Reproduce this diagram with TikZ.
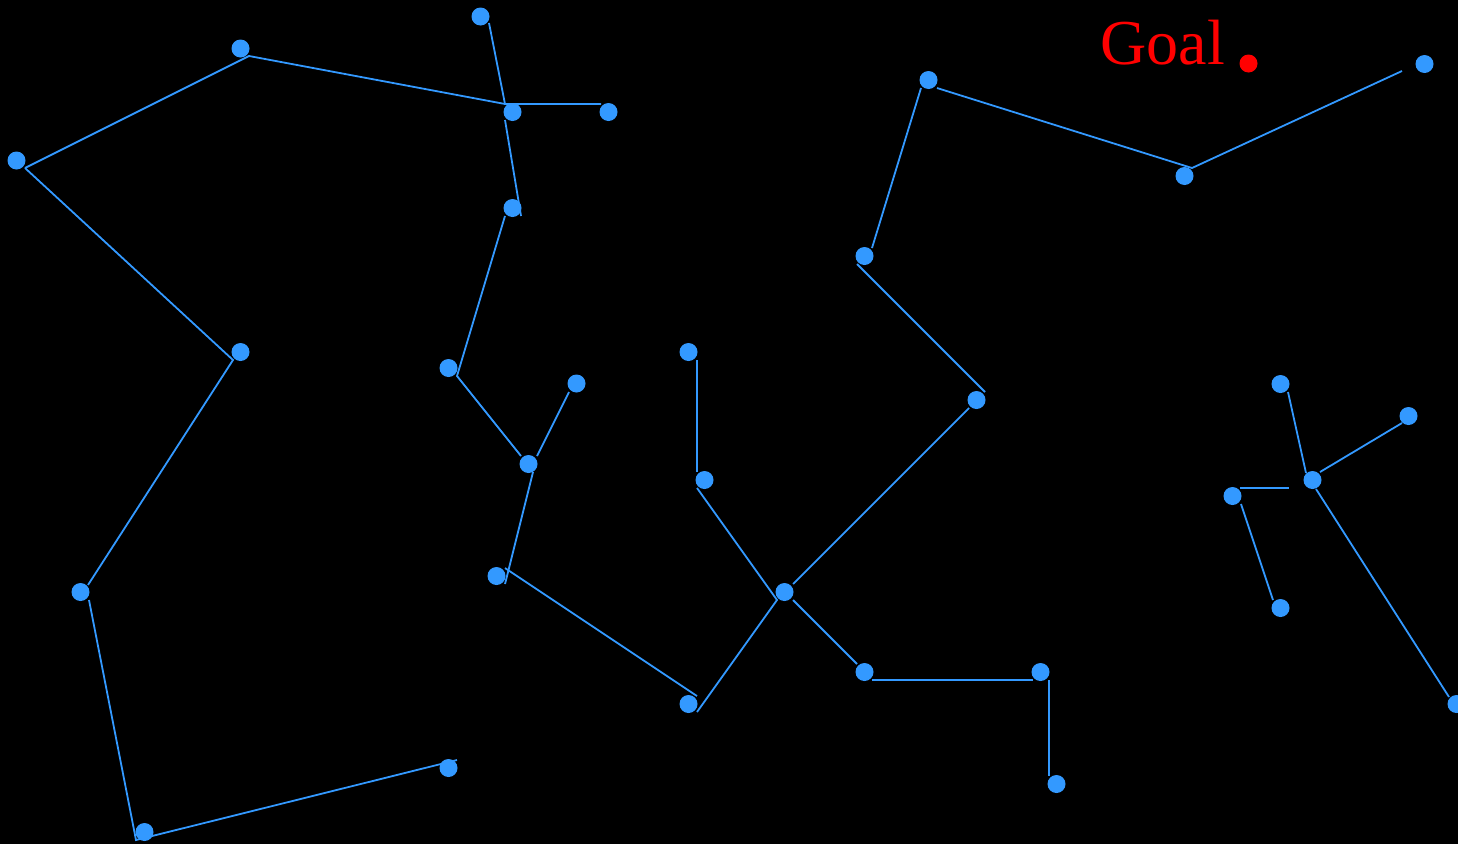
\documentclass[tikz,border=0pt]{standalone}
\usepackage{fontspec}
\setmainfont{Liberation Serif}
\definecolor{treeblue}{RGB}{51,153,255}
\definecolor{goalred}{RGB}{255,0,0}
\begin{document}
\begin{tikzpicture}[x=1pt,y=-1pt,
  dot/.style={circle,fill=treeblue,draw=none,minimum size=18pt,inner sep=0pt},
  goaldot/.style={circle,fill=goalred,draw=none,minimum size=18pt,inner sep=0pt},
  edge/.style={draw=treeblue,line width=1.8pt}]
\fill[black] (0,0) rectangle (1458,844);
\useasboundingbox (0,0) rectangle (1458,844);
% line vertices
\coordinate (v1) at (249,56);
\coordinate (v2) at (25,168);
\coordinate (v3) at (505,104);
\coordinate (v4) at (489,23);
\coordinate (v5) at (601,104);
\coordinate (v6) at (505,120);
\coordinate (v7) at (521,216);
\coordinate (v8) at (505,216);
\coordinate (v9) at (457,376);
\coordinate (v10) at (521,456);
\coordinate (v11) at (537,456);
\coordinate (v12) at (569,392);
\coordinate (v13) at (533,472);
\coordinate (v14) at (505,584);
\coordinate (v15) at (505,568);
\coordinate (v16) at (697,696);
\coordinate (v17) at (697,712);
\coordinate (v18) at (777,600);
\coordinate (v19) at (697,488);
\coordinate (v20) at (697,360);
\coordinate (v21) at (697,472);
\coordinate (v22) at (793,584);
\coordinate (v23) at (969,408);
\coordinate (v24) at (857,264);
\coordinate (v25) at (985,392);
\coordinate (v26) at (793,600);
\coordinate (v27) at (857,664);
\coordinate (v28) at (872,680);
\coordinate (v29) at (1033,680);
\coordinate (v30) at (1049,680);
\coordinate (v31) at (1049,776);
\coordinate (v32) at (872,248);
\coordinate (v33) at (921,88);
\coordinate (v34) at (937,88);
\coordinate (v35) at (1192,168);
\coordinate (v36) at (1402,71);
\coordinate (v37) at (233,360);
\coordinate (v38) at (88,585);
\coordinate (v39) at (89,600);
\coordinate (v40) at (136,840);
\coordinate (v41) at (457,760);
\coordinate (v42) at (1288,392);
\coordinate (v43) at (1306,473);
\coordinate (v44) at (1320,472);
\coordinate (v45) at (1402,423);
\coordinate (v46) at (1240,488);
\coordinate (v47) at (1289,488);
\coordinate (v48) at (1241,504);
\coordinate (v49) at (1273,600);
\coordinate (v50) at (1316,489);
\coordinate (v51) at (1449,697);
% edges
\draw[edge] (v2) -- (v1) -- (v3);
\draw[edge] (v4) -- (v3) -- (v5);
\draw[edge] (v6) -- (v7);
\draw[edge] (v8) -- (v9) -- (v10);
\draw[edge] (v11) -- (v12);
\draw[edge] (v13) -- (v14);
\draw[edge] (v15) -- (v16);
\draw[edge] (v17) -- (v18) -- (v19);
\draw[edge] (v20) -- (v21);
\draw[edge] (v22) -- (v23);
\draw[edge] (v24) -- (v25);
\draw[edge] (v26) -- (v27);
\draw[edge] (v28) -- (v29);
\draw[edge] (v30) -- (v31);
\draw[edge] (v32) -- (v33);
\draw[edge] (v34) -- (v35) -- (v36);
\draw[edge] (v2) -- (v37) -- (v38);
\draw[edge] (v39) -- (v40) -- (v41);
\draw[edge] (v42) -- (v43);
\draw[edge] (v44) -- (v45);
\draw[edge] (v46) -- (v47);
\draw[edge] (v48) -- (v49);
\draw[edge] (v50) -- (v51);
% dots
\node[dot] (n1) at (240.5,48.5) {};
\node[dot] (n2) at (16.5,160.5) {};
\node[dot] (n3) at (480.5,16.5) {};
\node[dot] (n4) at (512.5,112) {};
\node[dot] (n5) at (608.5,112) {};
\node[dot] (n6) at (512.5,208) {};
\node[dot] (n7) at (448.5,368) {};
\node[dot] (n8) at (576.5,383.5) {};
\node[dot] (n9) at (528.5,464) {};
\node[dot] (n10) at (496.5,576) {};
\node[dot] (n11) at (688.5,352) {};
\node[dot] (n12) at (704.5,480) {};
\node[dot] (n13) at (784.5,592) {};
\node[dot] (n14) at (688.5,704) {};
\node[dot] (n15) at (864.5,672) {};
\node[dot] (n16) at (976.5,400) {};
\node[dot] (n17) at (1040.5,672) {};
\node[dot] (n18) at (1056.5,784) {};
\node[dot] (n19) at (864.5,256) {};
\node[dot] (n20) at (928.5,80) {};
\node[dot] (n21) at (1184.5,176) {};
\node[dot] (n22) at (1424.5,64) {};
\node[dot] (n23) at (1280.5,384) {};
\node[dot] (n24) at (1408.5,416) {};
\node[dot] (n25) at (1312.5,480) {};
\node[dot] (n26) at (1232.5,496) {};
\node[dot] (n27) at (1280.5,608) {};
\node[dot] (n28) at (1456.5,704) {};
\node[dot] (n29) at (80.5,592) {};
\node[dot] (n30) at (144.5,832) {};
\node[dot] (n31) at (448.5,768) {};
\node[dot] (n32) at (240.5,352) {};
% goal
\node[goaldot] (goal) at (1248.5,63.5) {};
\node[anchor=base west,inner sep=0pt,text=goalred,font=\fontsize{64}{70}\selectfont] (goallabel) at (1100.5,64) {Goal};
\end{tikzpicture}
\end{document}
